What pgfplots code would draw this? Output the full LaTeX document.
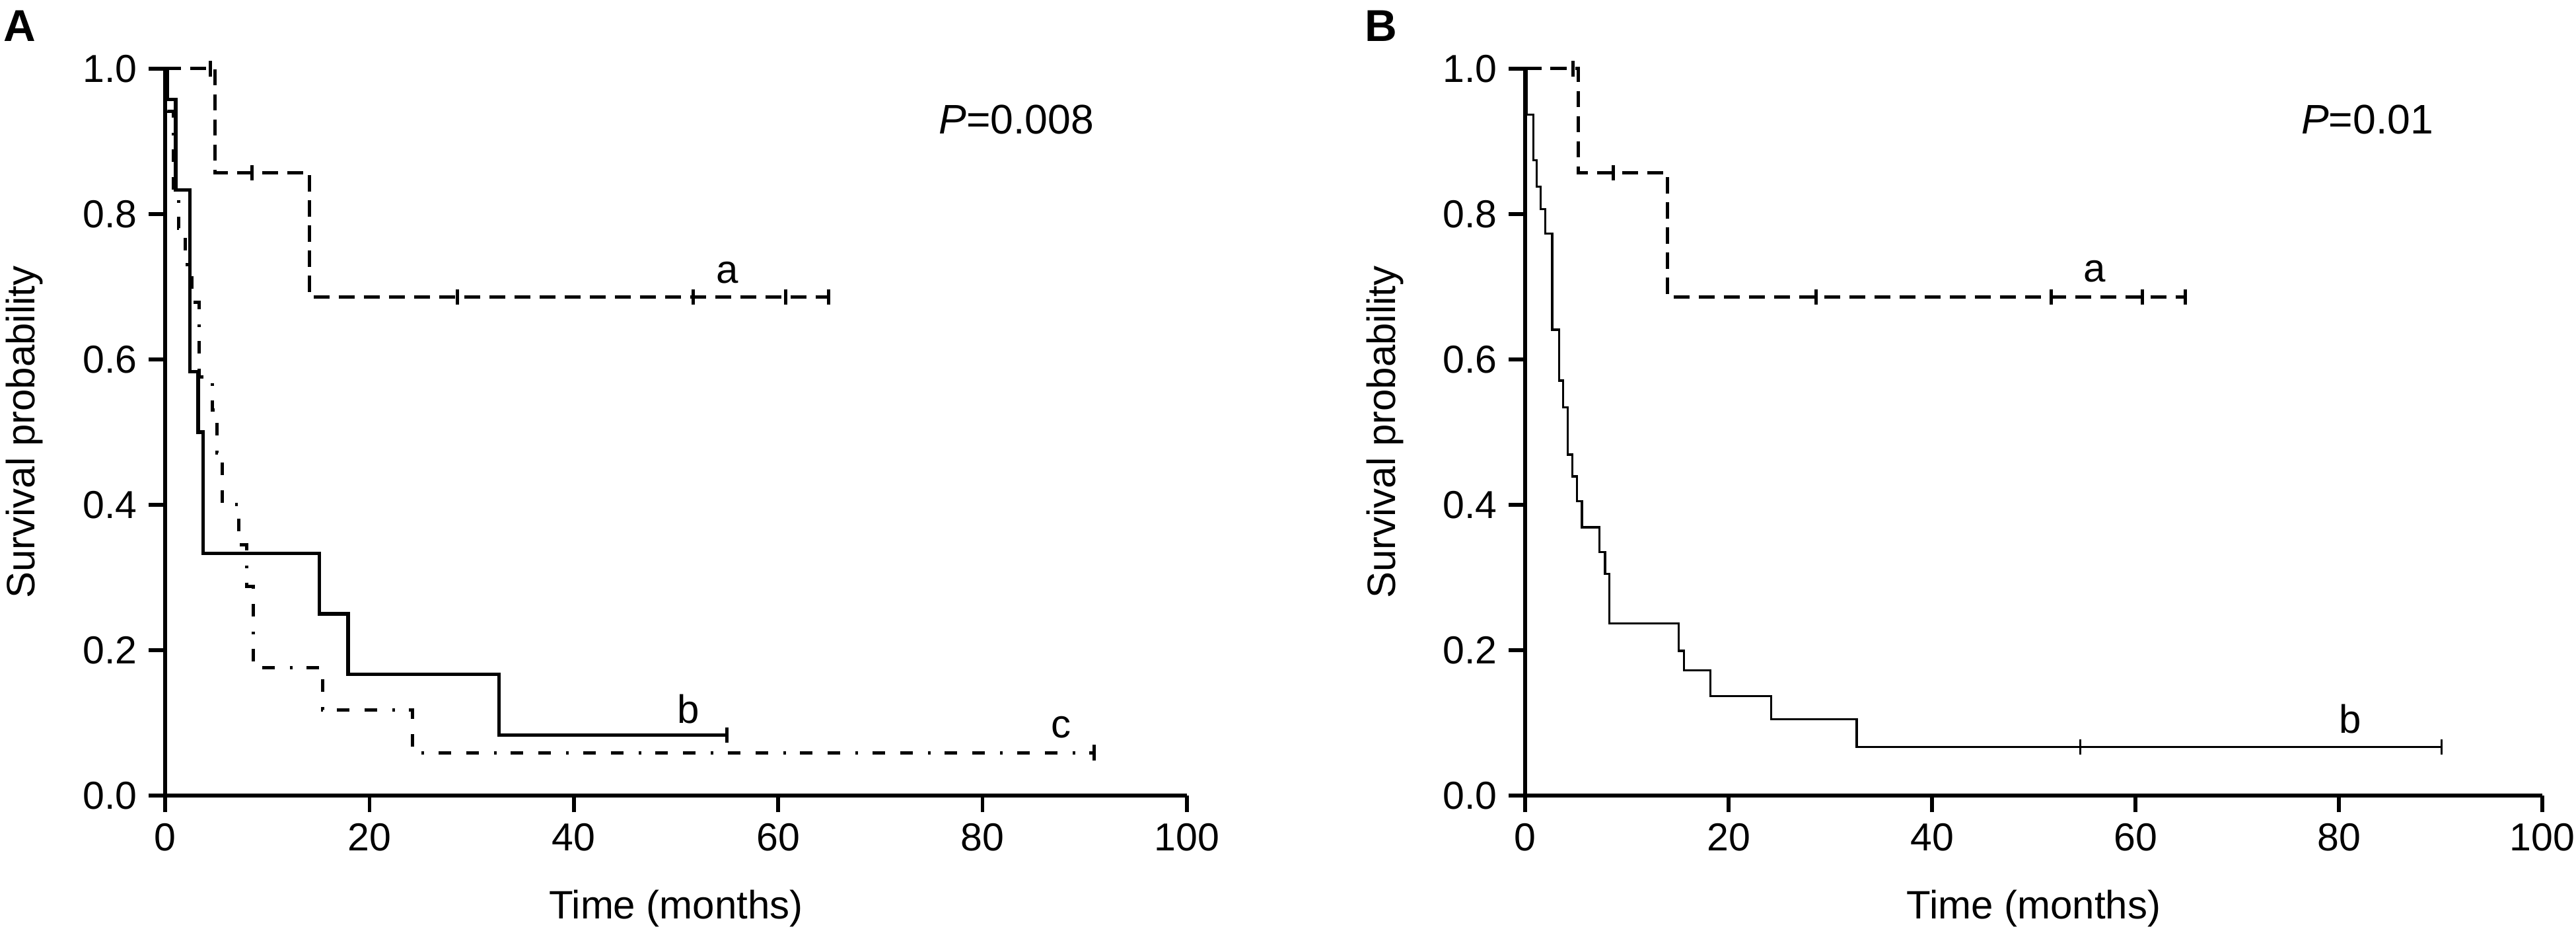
\documentclass[border=0pt]{standalone}
\usepackage{pgfplots}
\pgfplotsset{compat=1.18}
\usepackage{fontspec}
\setmainfont{Liberation Sans}

\pgfplotsset{
  kmaxis/.style={
    scale only axis, height=220pt,
    xmin=0, xmax=100, ymin=0, ymax=1,
    axis x line=bottom, axis y line=left,
    axis line style={-, line width=1.1pt},
    tick style={line width=1.1pt, black},
    major tick length=5pt, tick align=outside,
    xtick={0,20,40,60,80,100}, ytick={0,0.2,0.4,0.6,0.8,1.0},
    y tick label style={/pgf/number format/.cd, fixed, fixed zerofill, precision=1, /tikz/.cd},
    /pgf/number format/assume math mode=true,
    tick label style={font=\fontsize{11.8}{13}\selectfont},
    label style={font=\fontsize{12}{14}\selectfont},
    xlabel={Time (months)}, ylabel={Survival probability},
    xlabel style={at={(axis description cs:0.5,-0.155)}, anchor=center},
    ylabel style={at={(axis description cs:-0.138,0.5)}, anchor=center},
    clip=false,
  },
  cens/.style={only marks, mark=|, mark size=2.35pt, mark options={solid, line width=#1}},
}

\begin{document}
\begin{tikzpicture}
\path[use as bounding box] (0,0) rectangle (780pt,281.6pt);

% ---------------- Panel A ----------------
\begin{axis}[kmaxis, width=309.4pt, at={(50pt,40.8pt)}, anchor=south west]
\addplot[black, const plot, line width=1.0pt, dash pattern=on 4.9pt off 2.7pt] coordinates {
(0,1) (4.87,0.857) (14.14,0.686) (64.9,0.686)};
\addplot[black, cens=1.0pt] coordinates {
(4.4,1.0) (8.5,0.857) (28.6,0.686) (51.7,0.686) (60.7,0.686) (64.9,0.686)};

\addplot[black, const plot, line width=1.05pt] coordinates {
(0,1) (0.25,0.958) (1.03,0.833) (2.41,0.583) (3.23,0.5) (3.73,0.333) (15.1,0.25) (17.9,0.167) (32.7,0.083) (55,0.083)};
\addplot[black, cens=1.0pt] coordinates {(55,0.083)};

\addplot[black, const plot, line width=1.0pt, dash pattern=on 0.8pt off 4.3pt on 3.8pt off 4.6pt on 3.8pt off 4.6pt] coordinates {
(0,1) (0.2,0.941) (0.82,0.824) (1.3,0.78) (1.94,0.73) (2.59,0.679) (3.3,0.576) (4.6,0.53) (5.1,0.471) (5.6,0.40) (7.2,0.345) (8.0,0.288) (8.6,0.176) (15.4,0.118) (24.2,0.059) (90.9,0.059)};
\addplot[black, cens=1.0pt] coordinates {(90.9,0.059)};

\node[anchor=base, font=\fontsize{12}{14}\selectfont] at (axis cs:55,0.705) {a};
\node[anchor=base, font=\fontsize{12}{14}\selectfont] at (axis cs:51.2,0.10) {b};
\node[anchor=base, font=\fontsize{12}{14}\selectfont] at (axis cs:87.7,0.08) {c};
\node[anchor=base, font=\fontsize{12.5}{14}\selectfont] at (axis cs:83.3,0.91) {\textit{P}=0.008};
\end{axis}

% ---------------- Panel B ----------------
\begin{axis}[kmaxis, width=308pt, at={(461.8pt,40.8pt)}, anchor=south west]
\addplot[black, const plot, line width=1.0pt, dash pattern=on 4.9pt off 2.7pt] coordinates {
(0,1) (5.2,0.857) (14.0,0.686) (64.9,0.686)};
\addplot[black, cens=1.0pt] coordinates {
(4.7,1.0) (8.7,0.857) (28.6,0.686) (51.7,0.686) (60.7,0.686) (64.9,0.686)};

\addplot[black, const plot, line width=0.65pt] coordinates {
(0,1) (0.17,0.937) (0.82,0.874) (1.15,0.838) (1.52,0.807) (1.97,0.773) (2.66,0.641) (3.36,0.571) (3.75,0.534) (4.18,0.469) (4.66,0.439) (5.11,0.405) (5.58,0.369) (7.32,0.335) (7.86,0.305) (8.29,0.237) (15.1,0.199) (15.6,0.172) (18.2,0.137) (24.2,0.105) (32.6,0.067) (90.1,0.067)};
\addplot[black, cens=0.65pt] coordinates {(54.6,0.067) (90.1,0.067)};

\node[anchor=base, font=\fontsize{12}{14}\selectfont] at (axis cs:56,0.707) {a};
\node[anchor=base, font=\fontsize{12}{14}\selectfont] at (axis cs:81.1,0.086) {b};
\node[anchor=base, font=\fontsize{12.5}{14}\selectfont] at (axis cs:82.8,0.91) {\textit{P}=0.01};
\end{axis}

\node[anchor=north west, inner sep=0pt, font=\bfseries\fontsize{13.5}{15}\selectfont] at (0.9pt,278.6pt) {A};
\node[anchor=north west, inner sep=0pt, font=\bfseries\fontsize{13.5}{15}\selectfont] at (413.1pt,278.6pt) {B};
\end{tikzpicture}
\end{document}
